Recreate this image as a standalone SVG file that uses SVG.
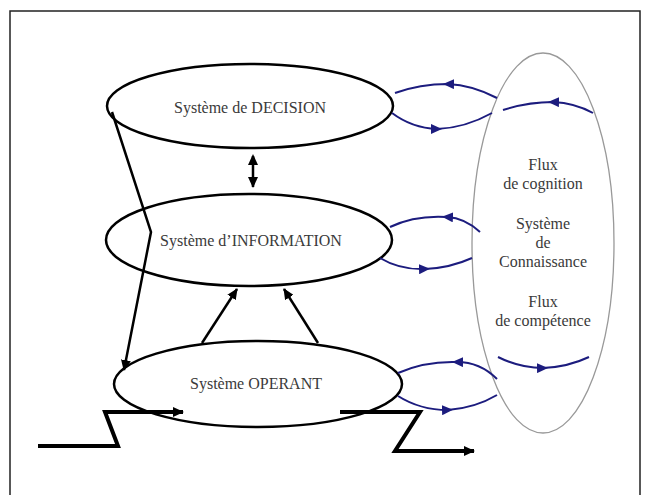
<svg xmlns="http://www.w3.org/2000/svg" width="649" height="495" viewBox="0 0 649 495">
<style>
.node{fill:#fff;stroke:#000;stroke-width:2.5}
.know{fill:none;stroke:#999;stroke-width:1.3}
.lbl{font-family:"Liberation Serif","Times New Roman",serif;font-size:16px;fill:#3a3a3a;text-anchor:middle}
.blk{fill:none;stroke:#000;stroke-width:2.5}
.thick{fill:none;stroke:#000;stroke-width:4}
.blue{fill:none;stroke:#1c1c7e;stroke-width:2;marker-mid:url(#bm)}
</style>
<defs>
<marker id="ba" markerWidth="12" markerHeight="10" refX="10" refY="5" orient="auto" markerUnits="userSpaceOnUse">
<path d="M0,0 L11,5 L0,10 Z" fill="#000"/>
</marker>
<marker id="bs" markerWidth="12" markerHeight="10" refX="2" refY="5" orient="auto" markerUnits="userSpaceOnUse">
<path d="M11,0 L0,5 L11,10 Z" fill="#000"/>
</marker>
<marker id="bm" markerWidth="12" markerHeight="10" refX="6" refY="5" orient="auto" markerUnits="userSpaceOnUse">
<path d="M0,0 L11,5 L0,10 Z" fill="#1c1c7e"/>
</marker>
</defs>
<rect x="10" y="11" width="630" height="500" fill="none" stroke="#222" stroke-width="1.5"/>
<g id="knowledge">
<ellipse class="know" cx="543" cy="243" rx="71" ry="190"/>
<text class="lbl" x="543" y="170">Flux</text>
<text class="lbl" x="543" y="189">de cognition</text>
<text class="lbl" x="543" y="229">Système</text>
<text class="lbl" x="543" y="248">de</text>
<text class="lbl" x="543" y="267">Connaissance</text>
<text class="lbl" x="543" y="307">Flux</text>
<text class="lbl" x="543" y="326">de compétence</text>
</g>
<g id="decision">
<ellipse class="node" cx="250" cy="106" rx="143" ry="42"/>
<text class="lbl" x="250" y="113">Système de DECISION</text>
</g>
<g id="information">
<ellipse class="node" cx="249" cy="240" rx="143" ry="46"/>
<text class="lbl" x="251" y="246">Système d’INFORMATION</text>
</g>
<g id="operant">
<ellipse class="node" cx="258" cy="384" rx="144" ry="43"/>
<text class="lbl" x="256" y="389">Système OPERANT</text>
</g>
<g id="connectors">
<line class="blk" x1="253" y1="156" x2="253" y2="187" marker-start="url(#bs)" marker-end="url(#ba)"/>
<polyline class="blk" points="112,112 151,232 124,370" marker-end="url(#ba)"/>
<line class="blk" x1="202" y1="343" x2="237" y2="289" marker-end="url(#ba)"/>
<line class="blk" x1="318" y1="343" x2="284" y2="289" marker-end="url(#ba)"/>
<path class="thick" d="M38,446 H118 L105,412 H183" marker-end="url(#ba)"/>
<path class="thick" d="M340,412 H420 L395,451 H474" marker-end="url(#ba)"/>
<path class="blue" d="M497,98 Q472,85 448,84 Q420,84 395,93"/>
<path class="blue" d="M392,113 Q412,128 437,129 Q465,128 492,113"/>
<path class="blue" d="M593,113 Q575,103 553,102 Q528,102 503,110"/>
<path class="blue" d="M480,232 Q465,218 447,217 Q415,215 390,227"/>
<path class="blue" d="M380,258 Q400,270 425,269 Q450,268 472,258"/>
<path class="blue" d="M497,379 Q480,362 457,362 Q425,361 398,373"/>
<path class="blue" d="M398,396 Q420,410 448,410 Q475,408 497,395"/>
<path class="blue" d="M498,357 Q520,368 543,368 Q568,367 589,357"/>
</g>
</svg>
